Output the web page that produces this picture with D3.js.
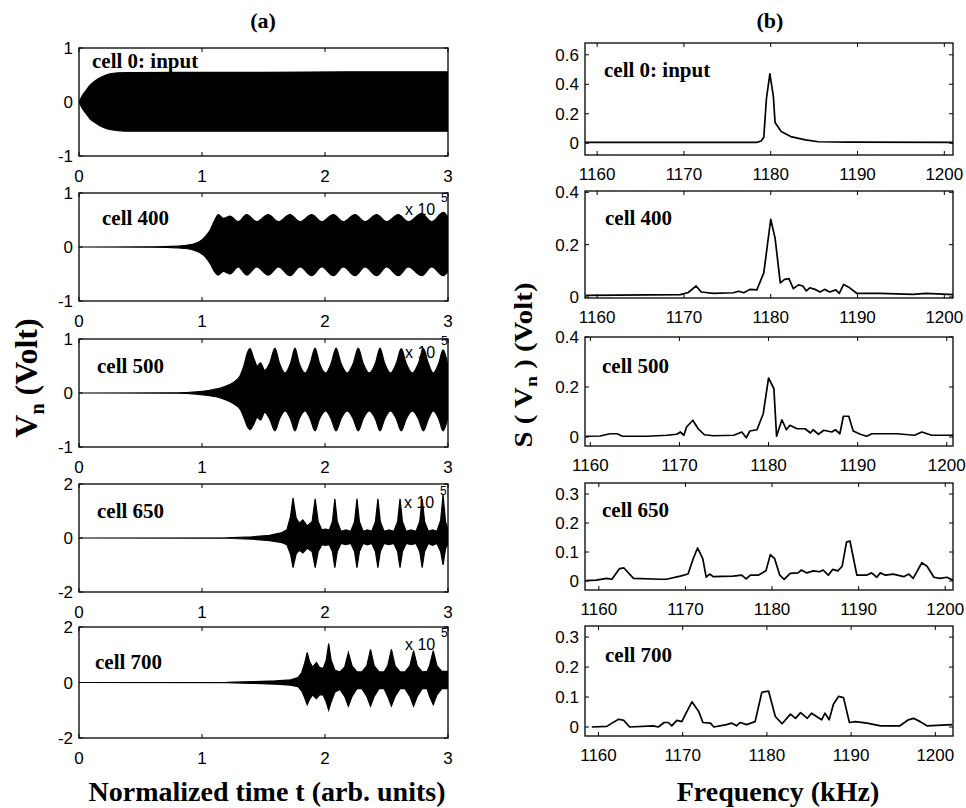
<!DOCTYPE html>
<html>
<head>
<meta charset="utf-8">
<script src="https://cdn.jsdelivr.net/npm/d3@7"></script>
<style>
  body { margin: 0; background: #fff; }
  svg { display: block; }
</style>
</head>
<body>
<div id="chart"></div>
<script>
// ---- datos ----
const timeTicks = [0, 1, 2, 3];
const freqTicks = [1160, 1170, 1180, 1190, 1200];
const voltTicksSmall = [-1, 0, 1];
const voltTicksBig = [-2, 0, 2];
const specTicksA = [0, 0.2, 0.4, 0.6];
const specTicksB = [0, 0.2, 0.4];
const specTicksC = [0, 0.1, 0.2, 0.3];
const cellNames = ['cell 0: input', 'cell 400', 'cell 500', 'cell 650', 'cell 700'];

// envolvente de la señal: [t, superior, inferior]
const env0 = [[0,0,0],[0.03,0.13,-0.13],[0.06,0.22,-0.22],[0.09,0.31,-0.31],[0.13,0.39,-0.38],[0.17,0.45,-0.44],
  [0.21,0.49,-0.48],[0.25,0.52,-0.51],[0.32,0.54,-0.53],[0.41,0.545,-0.54],[0.8,0.55,-0.54],[1.5,0.55,-0.54],
  [2.2,0.56,-0.54],[3,0.56,-0.54]];
const env400 = [[0,0,0],[0.6,0.004,-0.004],[0.75,0.01,-0.01],[0.85,0.025,-0.025],[0.92,0.05,-0.05],[0.98,0.1,-0.1],
  [1.03,0.2,-0.19],[1.07,0.33,-0.32],[1.1,0.48,-0.45],[1.133,0.6,-0.52],[1.173,0.53,-0.45],[1.228,0.57,-0.5],
  [1.295,0.47,-0.37],[1.363,0.6,-0.52],[1.444,0.47,-0.37],[1.539,0.6,-0.52],[1.621,0.47,-0.37],[1.715,0.6,-0.53],
  [1.797,0.47,-0.37],[1.892,0.6,-0.53],[1.973,0.47,-0.37],[2.068,0.6,-0.53],[2.149,0.47,-0.37],[2.244,0.6,-0.53],
  [2.325,0.47,-0.37],[2.42,0.6,-0.53],[2.501,0.47,-0.37],[2.596,0.6,-0.53],[2.677,0.47,-0.37],[2.786,0.62,-0.53],
  [2.867,0.47,-0.37],[2.962,0.64,-0.53],[3,0.55,-0.45]];
const env500 = [[0,0,0],[0.8,0.004,-0.004],[0.95,0.02,-0.02],[1.05,0.045,-0.045],[1.15,0.09,-0.09],[1.22,0.15,-0.15],
  [1.27,0.22,-0.22],[1.31,0.32,-0.3],[1.34,0.5,-0.45],[1.37,0.75,-0.63],[1.39,0.82,-0.68],[1.42,0.65,-0.58],
  [1.45,0.5,-0.45],[1.475,0.56,-0.5],[1.51,0.42,-0.36],[1.55,0.55,-0.48],[1.593,0.83,-0.7],[1.63,0.55,-0.48],
  [1.675,0.37,-0.33],[1.72,0.55,-0.48],[1.756,0.83,-0.7],[1.79,0.55,-0.48],[1.838,0.37,-0.33],[1.88,0.55,-0.48],
  [1.919,0.83,-0.7],[1.955,0.55,-0.48],[2.005,0.37,-0.33],[2.05,0.55,-0.48],[2.09,0.83,-0.7],[2.13,0.55,-0.48],
  [2.18,0.37,-0.33],[2.23,0.55,-0.48],[2.27,0.83,-0.7],[2.31,0.55,-0.48],[2.358,0.37,-0.33],[2.41,0.55,-0.48],
  [2.447,0.83,-0.7],[2.485,0.55,-0.48],[2.533,0.37,-0.33],[2.58,0.55,-0.48],[2.62,0.82,-0.7],[2.66,0.55,-0.48],
  [2.71,0.37,-0.33],[2.76,0.55,-0.48],[2.8,0.82,-0.7],[2.84,0.55,-0.48],[2.88,0.37,-0.33],[2.925,0.55,-0.48],
  [2.96,0.8,-0.7],[3,0.5,-0.45]];
const env650 = [[0,0,0],[1.2,0.01,-0.01],[1.4,0.04,-0.04],[1.55,0.1,-0.1],[1.65,0.2,-0.17],[1.69,0.3,-0.25],
  [1.72,0.8,-0.6],[1.74,1.48,-1.1],[1.765,0.75,-0.6],[1.79,0.55,-0.45],[1.82,0.67,-0.55],[1.855,0.45,-0.38],
  [1.895,0.6,-0.5],[1.92,1.45,-1.1],[1.945,0.6,-0.5],[1.975,0.3,-0.25],[2.0,0.33,-0.27],[2.035,0.3,-0.25],
  [2.06,0.6,-0.5],[2.08,1.45,-1.1],[2.1,0.6,-0.5],[2.13,0.25,-0.2],[2.17,0.3,-0.25],[2.21,0.25,-0.2],
  [2.24,0.6,-0.5],[2.26,1.45,-1.1],[2.28,0.6,-0.5],[2.31,0.25,-0.2],[2.345,0.3,-0.25],[2.38,0.25,-0.2],
  [2.41,0.6,-0.5],[2.43,1.45,-1.1],[2.45,0.6,-0.5],[2.48,0.25,-0.2],[2.52,0.3,-0.25],[2.56,0.25,-0.2],
  [2.59,0.6,-0.5],[2.61,1.45,-1.1],[2.63,0.6,-0.5],[2.66,0.25,-0.2],[2.7,0.3,-0.25],[2.74,0.25,-0.2],
  [2.77,0.6,-0.5],[2.79,1.45,-1.1],[2.81,0.6,-0.5],[2.84,0.25,-0.2],[2.875,0.3,-0.27],[2.91,0.25,-0.2],
  [2.94,0.65,-0.5],[2.96,1.6,-1.0],[2.98,0.6,-0.4],[3,0.3,-0.2]];
const env700 = [[0,0,0],[1.2,0.005,-0.005],[1.4,0.03,-0.03],[1.6,0.06,-0.06],[1.72,0.1,-0.1],[1.78,0.18,-0.15],
  [1.81,0.35,-0.3],[1.835,0.7,-0.55],[1.855,1.08,-0.8],[1.875,0.75,-0.6],[1.9,0.55,-0.45],[1.93,0.72,-0.58],
  [1.955,0.55,-0.45],[1.985,0.5,-0.45],[2.01,0.8,-0.7],[2.03,1.4,-1.0],[2.05,0.8,-0.7],[2.08,0.45,-0.35],
  [2.12,0.38,-0.25],[2.16,0.55,-0.5],[2.19,1.08,-0.86],[2.22,0.6,-0.5],[2.26,0.38,-0.22],[2.3,0.38,-0.22],
  [2.34,0.6,-0.5],[2.37,1.19,-0.86],[2.4,0.6,-0.5],[2.44,0.38,-0.22],[2.48,0.38,-0.22],[2.51,0.6,-0.5],
  [2.54,1.19,-0.85],[2.57,0.6,-0.5],[2.61,0.38,-0.22],[2.65,0.38,-0.22],[2.69,0.6,-0.5],[2.72,1.15,-0.86],
  [2.75,0.6,-0.5],[2.79,0.38,-0.22],[2.83,0.4,-0.22],[2.85,0.6,-0.5],[2.88,1.15,-0.8],[2.91,0.6,-0.45],
  [2.95,0.4,-0.22],[3,0.4,-0.22]];

// espectros: [frecuencia kHz, S(Vn)]
const spec0 = [[1158.6,0.005],[1170,0.005],[1178.4,0.006],[1178.9,0.015],[1179.2,0.04],[1179.5,0.3],[1179.9,0.47],
  [1180.3,0.32],[1180.5,0.14],[1181.2,0.08],[1182.3,0.045],[1184,0.023],[1185.5,0.01],[1189,0.007],[1201,0.005]];
const spec400 = [[1158.7,0.006],[1169.6,0.009],[1170.5,0.017],[1171.4,0.042],[1172,0.019],[1173.4,0.014],
  [1175.7,0.016],[1176.3,0.022],[1176.9,0.016],[1177.6,0.029],[1178.4,0.027],[1179.2,0.092],[1180,0.297],
  [1180.5,0.225],[1181.1,0.054],[1181.6,0.067],[1182.1,0.07],[1182.6,0.032],[1183.2,0.046],[1183.7,0.042],
  [1184.1,0.023],[1184.5,0.035],[1185.1,0.029],[1185.7,0.019],[1186.2,0.029],[1186.8,0.019],[1187.5,0.027],
  [1187.9,0.014],[1188.4,0.048],[1189.1,0.035],[1189.9,0.014],[1192.6,0.014],[1196.4,0.01],[1197.9,0.014],
  [1201,0.009]];
const spec500 = [[1159.5,0.003],[1161.1,0.004],[1162.2,0.013],[1163,0.013],[1163.6,0.003],[1166.4,0.003],
  [1168.6,0.007],[1169.7,0.011],[1170.1,0.02],[1170.5,0.007],[1170.8,0.04],[1171.5,0.067],[1172.1,0.033],
  [1172.8,0.009],[1173.8,0.005],[1176.1,0.007],[1177,0.02],[1177.5,-0.003],[1177.9,0.024],[1178.7,0.029],
  [1179.4,0.093],[1180,0.236],[1180.6,0.193],[1180.9,0.003],[1181.5,0.069],[1182,0.029],[1182.4,0.047],
  [1183.2,0.033],[1184.1,0.033],[1184.7,0.016],[1185,0.029],[1185.6,0.011],[1186.2,0.027],[1187.1,0.02],
  [1187.5,0.029],[1188,0.013],[1188.4,0.083],[1189,0.083],[1189.5,0.024],[1190.3,0.011],[1191,0.003],
  [1191.6,0.013],[1194.4,0.013],[1196.4,0.007],[1197.2,0.02],[1198.3,0.007],[1200.7,0.007]];
const spec650 = [[1158.5,0.001],[1159.7,0.003],[1160.9,0.009],[1161.5,0.006],[1162.4,0.043],[1162.9,0.045],
  [1164,0.009],[1167.1,0.006],[1167.8,0.006],[1169.4,0.017],[1170.3,0.024],[1170.9,0.077],[1171.4,0.114],
  [1172,0.077],[1172.4,0.013],[1172.8,0.024],[1173.2,0.015],[1175.5,0.017],[1176.5,0.02],[1177,0.007],
  [1177.5,0.02],[1178.4,0.02],[1179.3,0.035],[1179.8,0.091],[1180.3,0.077],[1180.9,0.02],[1181.4,0.006],
  [1182.1,0.026],[1183,0.028],[1183.4,0.038],[1184,0.028],[1184.8,0.035],[1185.5,0.032],[1185.9,0.038],
  [1186.5,0.02],[1187,0.04],[1187.6,0.035],[1188.1,0.051],[1188.6,0.134],[1189,0.138],[1189.8,0.02],
  [1190.9,0.02],[1191.5,0.028],[1192.1,0.013],[1192.5,0.028],[1193.1,0.02],[1194,0.024],[1195.2,0.015],
  [1195.8,0.024],[1196.3,0.009],[1197.3,0.063],[1197.9,0.051],[1198.7,0.013],[1199.4,0.009],[1200.2,0.013],
  [1200.9,0.003]];
const spec700 = [[1159.2,0],[1161,0.002],[1161.6,0.013],[1162.4,0.026],[1163,0.022],[1163.7,0],[1166.5,0.004],
  [1167.1,0],[1167.8,0.015],[1168.3,0.015],[1168.7,0.004],[1169.3,0.022],[1169.9,0.018],[1170.4,0.046],
  [1171.1,0.084],[1171.9,0.052],[1172.4,0.015],[1173.3,0.013],[1173.7,0],[1175.2,0.008],[1175.8,0.013],
  [1176.4,0.004],[1176.8,0.015],[1177.6,0.008],[1178.6,0.018],[1179.4,0.116],[1180.2,0.12],[1181,0.035],
  [1181.8,0.011],[1182.8,0.043],[1183.4,0.029],[1184,0.048],[1184.8,0.029],[1185.3,0.046],[1185.9,0.035],
  [1186.5,0.024],[1186.9,0.046],[1187.4,0.024],[1187.9,0.076],[1188.5,0.102],[1189.1,0.098],[1189.8,0.015],
  [1190.5,0.018],[1191.9,0.013],[1193.5,0.004],[1195.8,0.004],[1196.8,0.024],[1197.4,0.029],[1198.2,0.018],
  [1199,0.004],[1202,0.008]];

// ---- disposición ----
const serif = '"Liberation Serif", "Times New Roman", serif';
const sans = '"Liberation Sans", Arial, sans-serif';
const W = 966, H = 808;

const svg = d3.select('#chart').append('svg')
  .attr('width', W).attr('height', H);

const leftX = [79, 448];
const leftPanels = [
  { env: env0, name: cellNames[0], top: 48, bottom: 156, ymax: 1, ticks: voltTicksSmall, lab: [92, 68], exp: null, curve: d3.curveMonotoneX },
  { env: env400, name: cellNames[1], top: 193, bottom: 301, ymax: 1, ticks: voltTicksSmall, lab: [102, 225], exp: [405, 215], curve: d3.curveMonotoneX },
  { env: env500, name: cellNames[2], top: 339, bottom: 447, ymax: 1, ticks: voltTicksSmall, lab: [97, 373], exp: [405, 358], curve: d3.curveMonotoneX },
  { env: env650, name: cellNames[3], top: 484, bottom: 592, ymax: 2, ticks: voltTicksBig, lab: [97, 518], exp: [404, 508], curve: d3.curveLinear },
  { env: env700, name: cellNames[4], top: 627, bottom: 738, ymax: 2, ticks: voltTicksBig, lab: [95, 669], exp: [405, 650], curve: d3.curveLinear }
];

const rightX = [585, 953];
const rightPanels = [
  { spec: spec0, name: cellNames[0], top: 43, bottom: 155, xd: [1158.6, 1201], yd: [-0.08, 0.68], ticks: specTicksA, lab: [604, 77] },
  { spec: spec400, name: cellNames[1], top: 191, bottom: 298, xd: [1158.6, 1201], yd: [-0.004, 0.405], ticks: specTicksB, lab: [605, 225] },
  { spec: spec500, name: cellNames[2], top: 337, bottom: 446, xd: [1159.4, 1200.7], yd: [-0.036, 0.4], ticks: specTicksB, lab: [602, 373] },
  { spec: spec650, name: cellNames[3], top: 483, bottom: 590, xd: [1158.4, 1200.9], yd: [-0.031, 0.338], ticks: specTicksC, lab: [602, 517] },
  { spec: spec700, name: cellNames[4], top: 626, bottom: 736, xd: [1158.4, 1202.1], yd: [-0.03, 0.337], ticks: specTicksC, lab: [605, 662] }
];

// marco estilo MATLAB con ticks hacia dentro en los cuatro lados
function drawFrame(g, x, y, xTicks, yTicks, xFmt, yFmt, xLabGap) {
  const [x0, x1] = x.range();
  const [y0, y1] = y.range(); // y0 = abajo
  const tl = 4;
  xTicks.forEach(v => {
    const px = x(v);
    g.append('line').attr('x1', px).attr('x2', px).attr('y1', y0).attr('y2', y0 - tl).attr('stroke', '#000');
    g.append('line').attr('x1', px).attr('x2', px).attr('y1', y1).attr('y2', y1 + tl).attr('stroke', '#000');
    g.append('text').attr('x', px).attr('y', y0 + xLabGap)
      .attr('text-anchor', 'middle').attr('font-family', sans).attr('font-size', 17)
      .text(xFmt(v));
  });
  yTicks.forEach(v => {
    const py = y(v);
    g.append('line').attr('x1', x0).attr('x2', x0 + tl).attr('y1', py).attr('y2', py).attr('stroke', '#000');
    g.append('line').attr('x1', x1).attr('x2', x1 - tl).attr('y1', py).attr('y2', py).attr('stroke', '#000');
    g.append('text').attr('x', x0 - 6).attr('y', py).attr('dy', '0.36em')
      .attr('text-anchor', 'end').attr('font-family', sans).attr('font-size', 17)
      .text(yFmt(v));
  });
  g.append('rect').attr('x', x0).attr('y', y1).attr('width', x1 - x0).attr('height', y0 - y1)
    .attr('fill', 'none').attr('stroke', '#000').attr('stroke-width', 1.3);
}

function cellLabel(g, pos, text) {
  g.append('text').attr('x', pos[0]).attr('y', pos[1])
    .attr('font-family', serif).attr('font-weight', 'bold').attr('font-size', 21)
    .text(text);
}

// columna (a): señal en el tiempo
leftPanels.forEach((p, i) => {
  const g = svg.append('g');
  const x = d3.scaleLinear().domain([0, 3]).range(leftX);
  const y = d3.scaleLinear().domain([-p.ymax, p.ymax]).range([p.bottom, p.top]);
  const clipId = 'clipL' + i;
  g.append('clipPath').attr('id', clipId).append('rect')
    .attr('x', leftX[0]).attr('y', p.top).attr('width', leftX[1] - leftX[0]).attr('height', p.bottom - p.top);
  const area = d3.area().curve(p.curve)
    .x(d => x(d[0])).y0(d => y(d[2])).y1(d => y(d[1]));
  g.append('path').datum(p.env).attr('d', area)
    .attr('clip-path', `url(#${clipId})`)
    .attr('fill', '#000').attr('stroke', '#000').attr('stroke-width', 1.2);
  drawFrame(g, x, y, timeTicks, p.ticks, d => String(d), d => String(d), 26);
  cellLabel(g, p.lab, p.name);
  if (p.exp) {
    g.append('text').attr('x', p.exp[0]).attr('y', p.exp[1])
      .attr('font-family', sans).attr('font-size', 16).text('x 10');
    g.append('text').attr('x', p.exp[0] + 36).attr('y', p.exp[1] - 13)
      .attr('font-family', sans).attr('font-size', 12).text('5');
  }
});

// columna (b): espectros
const specFmt = d => d === 0 ? '0' : d3.format('.1f')(d);
rightPanels.forEach((p, i) => {
  const g = svg.append('g');
  const x = d3.scaleLinear().domain(p.xd).range(rightX);
  const y = d3.scaleLinear().domain(p.yd).range([p.bottom, p.top]);
  const clipId = 'clipR' + i;
  g.append('clipPath').attr('id', clipId).append('rect')
    .attr('x', rightX[0]).attr('y', p.top).attr('width', rightX[1] - rightX[0]).attr('height', p.bottom - p.top);
  const line = d3.line().x(d => x(d[0])).y(d => y(d[1]));
  g.append('path').datum(p.spec).attr('d', line)
    .attr('clip-path', `url(#${clipId})`)
    .attr('fill', 'none').attr('stroke', '#000').attr('stroke-width', 1.7)
    .attr('stroke-linejoin', 'round');
  drawFrame(g, x, y, freqTicks, p.ticks, d => String(d), specFmt, 25);
  cellLabel(g, p.lab, p.name);
});

// títulos y ejes
svg.append('text').attr('x', 263).attr('y', 28).attr('text-anchor', 'middle')
  .attr('font-family', serif).attr('font-weight', 'bold').attr('font-size', 22).text('(a)');
svg.append('text').attr('x', 770).attr('y', 28).attr('text-anchor', 'middle')
  .attr('font-family', serif).attr('font-weight', 'bold').attr('font-size', 22).text('(b)');

svg.append('text').attr('x', 267).attr('y', 801).attr('text-anchor', 'middle')
  .attr('font-family', serif).attr('font-weight', 'bold').attr('font-size', 28)
  .text('Normalized time t (arb. units)');
svg.append('text').attr('x', 778).attr('y', 801).attr('text-anchor', 'middle')
  .attr('font-family', serif).attr('font-weight', 'bold').attr('font-size', 28)
  .text('Frequency (kHz)');

const yl = svg.append('text')
  .attr('transform', 'translate(37,378) rotate(-90)')
  .attr('text-anchor', 'middle')
  .attr('font-family', serif).attr('font-weight', 'bold').attr('font-size', 32);
yl.append('tspan').text('V');
yl.append('tspan').attr('font-size', 20).attr('dy', 7).text('n');
yl.append('tspan').attr('dy', -7).text(' (Volt)');

const yr = svg.append('text')
  .attr('transform', 'translate(532,365) rotate(-90)')
  .attr('text-anchor', 'middle')
  .attr('font-family', serif).attr('font-weight', 'bold').attr('font-size', 25)
  .attr('textLength', 165).attr('lengthAdjust', 'spacingAndGlyphs');
yr.append('tspan').text('S ( V');
yr.append('tspan').attr('font-size', 17).attr('dy', 5).text('n');
yr.append('tspan').attr('dy', -5).text(' ) (Volt)');
</script>
</body>
</html>
